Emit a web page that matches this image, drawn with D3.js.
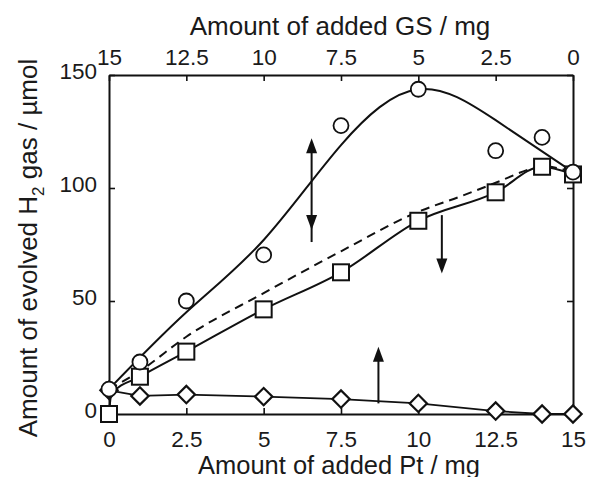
<!DOCTYPE html>
<html>
<head>
<meta charset="utf-8">
<script src="https://cdn.jsdelivr.net/npm/d3@7"></script>
<style>
 body { margin:0; background:#fff; }
 text { font-family: "Liberation Sans", Arial, sans-serif; fill:#1a1a1a; }
</style>
</head>
<body>
<div id="chart"></div>
<script>
// tick labels
const ptTicks = [0, 2.5, 5, 7.5, 10, 12.5, 15];
const gsTicks = [15, 12.5, 10, 7.5, 5, 2.5, 0];
const h2Ticks = [0, 50, 100, 150];

// measured points (amount of Pt, H2 evolved)
const ptAmount = [0, 1, 2.5, 5, 7.5, 10, 12.5, 14, 15];
const circleVals = [11, 23, 50, 70.4, 127.6, 143.7, 116.5, 122.4, 107];
const squareVals = [0, 16.5, 27.6, 46.3, 62.7, 85.5, 98.1, 109.4, 106];
const diamondVals = [10.5, 8, 8.6, 7.7, 6.6, 4.7, 1.3, 0, 0];

// guide curves
const circleFitX = [0, 2.5, 5, 7.5, 10, 12.5, 15];
const circleFitY = [11, 45, 77, 119, 143.7, 130, 107];
const squareFitX = [0, 0.08, 1, 2.5, 5, 7.5, 10, 12.5, 14, 15];
const squareFitY = [0, 9, 16.5, 27.6, 46.3, 62.7, 85.5, 98.1, 109.4, 106];
const dashFitX = [0, 1, 2.5, 5, 7.5, 10, 11.35, 12.5, 13.7, 14, 15];
const dashFitY = [11, 19, 34.2, 53.5, 72, 89.5, 96.2, 102.3, 108.7, 109.6, 107];
const diamondFitX = [0, 1, 2.5, 5, 7.5, 10, 12.5, 14, 15];
const diamondFitY = [10.5, 8, 8.6, 7.7, 6.6, 4.7, 1.3, 0, 0];

// arrows: x, from y, to y, both heads?
const arrowX = [6.55, 10.76, 8.71];
const arrowFrom = [81.4, 88, 4.7];
const arrowTo = [122, 62.2, 29.8];
const arrowBoth = [true, false, false];

function init(){
    var w = 591, h = 477;
    var svg = d3.select("#chart").append("svg")
                .attr("width", w)
                .attr("height", h);

    var left = 109, right = 573, top = 75, bottom = 414;

    var x = d3.scaleLinear().domain([0, 15]).range([left, right]);
    var xTop = d3.scaleLinear().domain([15, 0]).range([left, right]);
    var y = d3.scaleLinear().domain([0, 150]).range([bottom, top]);

    // axes, ticks pointing inwards
    var gB = svg.append("g").attr("transform", "translate(0," + bottom + ")")
        .call(d3.axisBottom(x).tickValues(ptTicks).tickSizeInner(-6).tickSizeOuter(0).tickPadding(17)
            .tickFormat(d3.format("~g")));
    var gT = svg.append("g").attr("transform", "translate(0," + top + ")")
        .call(d3.axisTop(xTop).tickValues(gsTicks).tickSizeInner(-6).tickSizeOuter(0).tickPadding(10)
            .tickFormat(d3.format("~g")));
    var gL = svg.append("g").attr("transform", "translate(" + left + ",0)")
        .call(d3.axisLeft(y).tickValues(h2Ticks).tickSizeInner(-6).tickSizeOuter(0).tickPadding(12));
    var gR = svg.append("g").attr("transform", "translate(" + right + ",0)")
        .call(d3.axisRight(y).tickValues(h2Ticks).tickSizeInner(-6).tickSizeOuter(0).tickFormat(""));

    [gB, gT, gL, gR].forEach(g => {
        g.select(".domain").attr("stroke", "#111").attr("stroke-width", 2);
        g.selectAll(".tick line").attr("stroke", "#111").attr("stroke-width", 1.6);
        g.selectAll(".tick text").style("font-size", "22.5px")
            .style("font-family", "Liberation Sans, Arial, sans-serif").attr("fill", "#1a1a1a");
    });
    gL.selectAll(".tick text").attr("dy", "0.16em");
    gT.selectAll(".tick text").attr("dy", "0");

    // axis titles
    svg.append("text").attr("x", 340).attr("y", 35).attr("text-anchor", "middle")
        .style("font-size", "26px").text("Amount of added GS / mg");
    svg.append("text").attr("x", 339).attr("y", 474).attr("text-anchor", "middle")
        .style("font-size", "25.5px").text("Amount of added Pt / mg");
    var yt = svg.append("text").attr("transform", "translate(37,248) rotate(-90)")
        .attr("text-anchor", "middle").style("font-size", "26px");
    yt.append("tspan").text("Amount of evolved H");
    yt.append("tspan").attr("dy", 7).style("font-size", "17px").text("2");
    yt.append("tspan").attr("dy", -7).text(" gas / \u00b5mol");

    // guide curves
    var zip = (a, b) => a.map((v, i) => [v, b[i]]);
    var smooth = d3.line().x(d => x(d[0])).y(d => y(d[1])).curve(d3.curveNatural);
    var mono = d3.line().x(d => x(d[0])).y(d => y(d[1])).curve(d3.curveMonotoneX);
    var straight = d3.line().x(d => x(d[0])).y(d => y(d[1]));

    svg.append("path").attr("d", straight(zip(diamondFitX, diamondFitY)))
        .attr("fill", "none").attr("stroke", "#111").attr("stroke-width", 1.8);
    svg.append("path").attr("d", mono(zip(dashFitX, dashFitY)))
        .attr("fill", "none").attr("stroke", "#111").attr("stroke-width", 2)
        .attr("stroke-dasharray", "9,6");
    svg.append("path").attr("d", mono(zip(squareFitX, squareFitY)))
        .attr("fill", "none").attr("stroke", "#111").attr("stroke-width", 2);
    svg.append("path").attr("d", smooth(zip(circleFitX, circleFitY)))
        .attr("fill", "none").attr("stroke", "#111").attr("stroke-width", 2);

    // arrows
    arrowX.forEach((ax, i) => {
        var px = x(ax), y1 = y(arrowFrom[i]), y2 = y(arrowTo[i]);
        var dir = y2 < y1 ? -1 : 1;
        var hl = 15, hw = 5.5;
        svg.append("line").attr("x1", px).attr("x2", px)
            .attr("y1", arrowBoth[i] ? y1 - dir * hl * 0.8 : y1).attr("y2", y2 - dir * hl * 0.8)
            .attr("stroke", "#111").attr("stroke-width", 2);
        var head = (ty, d) => "M" + px + "," + ty + "L" + (px - hw) + "," + (ty - d * hl) +
            "L" + (px + hw) + "," + (ty - d * hl) + "Z";
        svg.append("path").attr("d", head(y2, dir)).attr("fill", "#111");
        if (arrowBoth[i]) svg.append("path").attr("d", head(y1, -dir)).attr("fill", "#111");
    });

    // markers
    var pts = vals => ptAmount.map((p, i) => ({p: p, v: vals[i]}));
    svg.selectAll(".dia").data(pts(diamondVals)).enter().append("path")
        .attr("class", "dia")
        .attr("d", d3.symbol().type(d3.symbolSquare).size(150))
        .attr("transform", d => "translate(" + x(d.p) + "," + y(d.v) + ") rotate(45)")
        .attr("fill", "#fff").attr("stroke", "#111").attr("stroke-width", 2.2);
    svg.selectAll(".sq").data(pts(squareVals)).enter().append("rect")
        .attr("class", "sq")
        .attr("x", d => x(d.p) - 8).attr("y", d => y(d.v) - 8)
        .attr("width", 16).attr("height", 16)
        .attr("fill", "#fff").attr("stroke", "#111").attr("stroke-width", 2);
    svg.selectAll(".ci").data(pts(circleVals)).enter().append("circle")
        .attr("class", "ci")
        .attr("cx", d => x(d.p)).attr("cy", d => y(d.v)).attr("r", 7.5)
        .attr("fill", "#fff").attr("stroke", "#111").attr("stroke-width", 1.8);
}
window.onload = init;
</script>
</body>
</html>
